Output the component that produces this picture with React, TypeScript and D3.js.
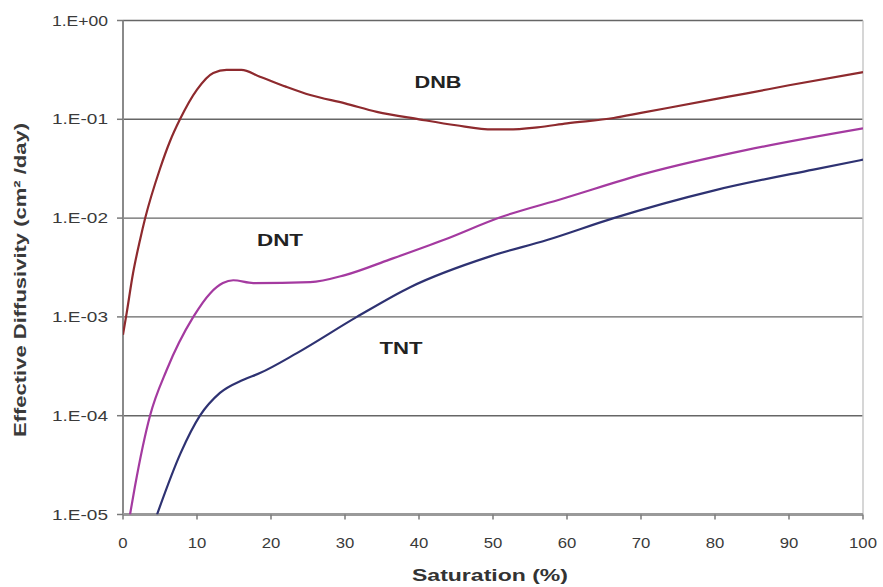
import React from "react";
import * as d3 from "d3";

// Saturation (%) and effective diffusivity (cm²/day)
const dnbX = [0, 0.5, 1.35, 2.3, 3.0, 5.0, 6.35, 7.7, 10, 12.2, 14, 16, 18.5, 22, 25.3, 30, 34.3, 40, 45, 50, 52, 56, 60, 66.3, 70, 80, 84.3, 90, 100];
const dnbY = [6.6e-4, 1.1e-3, 2.75e-3, 6.0e-3, 1.0e-2, 3.16e-2, 6.0e-2, 0.1, 0.2, 0.295, 0.316, 0.316, 0.27, 0.214, 0.176, 0.145, 0.119, 0.1, 0.087, 0.079, 0.079, 0.083, 0.091, 0.103, 0.116, 0.16, 0.183, 0.221, 0.30];

const dntX = [0.95, 1.6, 3.65, 5.9, 9.5, 11.8, 13.5, 14.9, 17.6, 25.3, 30, 36, 43.3, 51, 59.5, 70.8, 84.3, 100];
const dntY = [1e-5, 1.9e-5, 1e-4, 2.9e-4, 1e-3, 1.74e-3, 2.2e-3, 2.35e-3, 2.2e-3, 2.25e-3, 2.65e-3, 3.8e-3, 6.0e-3, 1.02e-2, 1.58e-2, 2.85e-2, 4.9e-2, 8.1e-2];

const tntX = [4.6, 7.8, 10.4, 13.1, 16.2, 18.5, 23.5, 31.6, 38.8, 49.6, 57.3, 66.3, 79.8, 93.3, 100];
const tntY = [1e-5, 4.2e-5, 1e-4, 1.7e-4, 2.3e-4, 2.7e-4, 4.3e-4, 1e-3, 2.0e-3, 4.1e-3, 6.0e-3, 1e-2, 1.9e-2, 3.1e-2, 3.9e-2];

const xTicks = [0, 10, 20, 30, 40, 50, 60, 70, 80, 90, 100];
const yTicks = [1e-5, 1e-4, 1e-3, 1e-2, 1e-1, 1];
const yTickLabels = ["1.E-05", "1.E-04", "1.E-03", "1.E-02", "1.E-01", "1.E+00"];

const seriesNames = ["DNB", "DNT", "TNT"];
const seriesColors = ["#8e2a2e", "#a43aa0", "#2e3272"];

const W = 883;
const H = 587;
const left = 123;
const right = 863;
const top = 20.5;
const bottom = 514.5;

export default function App() {
  const x = d3.scaleLinear().domain([0, 100]).range([left, right]);
  const y = d3.scaleLog().domain([1e-5, 1]).range([bottom, top]);

  const line = d3
    .line<[number, number]>()
    .x((d) => x(d[0]))
    .y((d) => y(d[1]))
    .curve(d3.curveMonotoneX);

  const series = [
    dnbX.map((v, i) => [v, dnbY[i]] as [number, number]),
    dntX.map((v, i) => [v, dntY[i]] as [number, number]),
    tntX.map((v, i) => [v, tntY[i]] as [number, number]),
  ];

  const labelPos = [
    { x: 438, y: 88, w: 47 },
    { x: 280, y: 246, w: 46 },
    { x: 401, y: 354, w: 43 },
  ];

  const font = "Liberation Sans, Arial, sans-serif";

  return (
    <svg
      width={W}
      height={H}
      style={{ position: "absolute", left: 0, top: 0, background: "#fff" }}
      fontFamily={font}
    >
      <defs>
        <clipPath id="plot">
          <rect x={left} y={top - 2} width={right - left} height={bottom - top + 2} />
        </clipPath>
      </defs>
      {/* gridlines */}
      {yTicks.map((t) => (
        <line key={"g" + t} x1={left} x2={right} y1={y(t)} y2={y(t)} stroke="#666" strokeWidth={1.4} />
      ))}
      {/* right border */}
      <line x1={right} x2={right} y1={top} y2={bottom} stroke="#c8c8c8" strokeWidth={1.5} />
      {/* left axis */}
      <line x1={left} x2={left} y1={top} y2={bottom} stroke="#8a8a8a" strokeWidth={2} />
      {yTicks.map((t, i) => (
        <g key={"yt" + t}>
          <line x1={left - 6} x2={left} y1={y(t)} y2={y(t)} stroke="#7a7a7a" strokeWidth={1.5} />
          <text
            x={left - 15}
            y={y(t)}
            dy="0.36em"
            textAnchor="end"
            fontSize={14}
            fill="#3a3a3a"
            textLength={56}
            lengthAdjust="spacingAndGlyphs"
          >
            {yTickLabels[i]}
          </text>
        </g>
      ))}
      {/* bottom axis */}
      <line x1={left} x2={right} y1={bottom} y2={bottom} stroke="#9a9a9a" strokeWidth={3} />
      {xTicks.map((t) => {
        const s = String(t);
        return (
          <g key={"xt" + t}>
            <line x1={x(t)} x2={x(t)} y1={bottom} y2={bottom + 5} stroke="#7a7a7a" strokeWidth={1.5} />
            <text
              x={x(t)}
              y={bottom + 33}
              textAnchor="middle"
              fontSize={15}
              fill="#3a3a3a"
              textLength={s.length * 9.3}
              lengthAdjust="spacingAndGlyphs"
            >
              {s}
            </text>
          </g>
        );
      })}
      {/* curves */}
      <g clipPath="url(#plot)">
        {series.map((s, i) => (
          <path key={seriesNames[i]} d={line(s) || ""} fill="none" stroke={seriesColors[i]} strokeWidth={2.2} />
        ))}
      </g>
      {/* series labels */}
      {seriesNames.map((n, i) => (
        <text
          key={"l" + n}
          x={labelPos[i].x}
          y={labelPos[i].y}
          textAnchor="middle"
          fontSize={16}
          fontWeight="bold"
          fill="#222"
          textLength={labelPos[i].w}
          lengthAdjust="spacingAndGlyphs"
        >
          {n}
        </text>
      ))}
      {/* axis titles */}
      <text
        x={490}
        y={581}
        textAnchor="middle"
        fontSize={17}
        fontWeight="bold"
        fill="#333"
        textLength={156}
        lengthAdjust="spacingAndGlyphs"
      >
        Saturation (%)
      </text>
      <text
        transform={`translate(26, ${280}) rotate(-90)`}
        textAnchor="middle"
        fontSize={16}
        fontWeight="bold"
        fill="#3a3a3a"
        textLength={314}
        lengthAdjust="spacingAndGlyphs"
      >
        Effective Diffusivity (cm² /day)
      </text>
    </svg>
  );
}
